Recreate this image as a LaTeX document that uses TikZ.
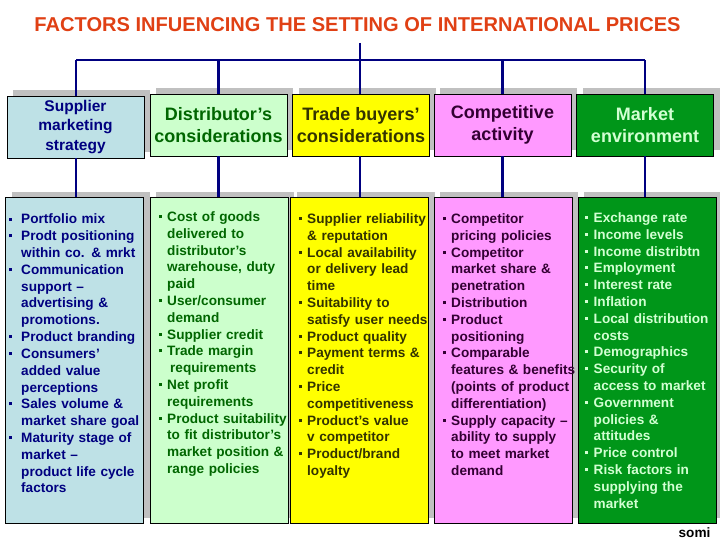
\documentclass[tikz,border=0pt]{standalone}
\usepackage{fontspec}
\setmainfont{Liberation Sans}
\usepackage{graphicx}
\usetikzlibrary{shadows}
\definecolor{titlecol}{RGB}{224,64,20}
\definecolor{navyc}{RGB}{0,0,128}
\definecolor{shadowgray}{RGB}{192,192,192}
\definecolor{fillA}{RGB}{190,225,230}
\definecolor{fillB}{RGB}{204,255,204}
\definecolor{fillC}{RGB}{255,255,0}
\definecolor{fillD}{RGB}{255,153,255}
\definecolor{fillE}{RGB}{0,150,25}
\definecolor{textA}{RGB}{0,0,128}
\definecolor{textB}{RGB}{0,102,0}
\definecolor{textC}{RGB}{51,51,0}
\definecolor{textD}{RGB}{51,0,51}
\definecolor{textE}{RGB}{210,255,210}
\newlength\bindent
\newcommand\itm[1]{\par\hangindent=\bindent\hangafter=1\noindent\rule{0pt}{11pt}\makebox[\bindent][l]{\raisebox{3.4pt}{\rule{3pt}{3pt}}}#1}
\tikzset{
  hdr/.style={draw=black, line width=0.8pt, minimum width=137pt, minimum height=62pt,
    align=center, inner sep=2pt, font=\fontsize{18}{22}\selectfont\bfseries,
    drop shadow={shadow xshift=6pt, shadow yshift=6pt, fill=shadowgray, opacity=1}},
  lbox/.style={draw=black, line width=0.8pt, minimum width=138pt, minimum height=326pt,
    drop shadow={shadow xshift=6pt, shadow yshift=5pt, fill=shadowgray, opacity=1}},
  body/.style={anchor=north west, inner sep=0pt, text width=140pt,
    font=\fontsize{13.6}{16.8}\selectfont\bfseries},
  conn/.style={draw=navyc, line width=2.5pt},
}
\begin{document}
\begin{tikzpicture}[x=1pt, y=-1pt]
\useasboundingbox (0,0) rectangle (720,540);
% title
\node[inner sep=0pt, text=titlecol] (title) at (357.5,24.5)
  {\resizebox{646pt}{14pt}{\bfseries FACTORS INFUENCING THE SETTING OF INTERNATIONAL PRICES}};
% header boxes
\node[hdr, fill=fillA, text=textA, font=\fontsize{15.5}{19.5}\selectfont\bfseries] (h1) at (75.5,127) {Supplier\\marketing\\strategy};
\node[hdr, fill=fillB, text=textB] (h2) at (218.5,125) {Distributor’s\\considerations};
\node[hdr, fill=fillC, text=textC] (h3) at (361,125) {Trade buyers’\\considerations};
\node[hdr, fill=fillD, text=textD] (h4) at (502.5,125) {Competitive\\activity};
\node[hdr, fill=fillE, text=textE] (h5) at (645,125) {Market\\environment};
% lower boxes
\node[lbox, fill=fillA] (l1) at (74.5,360) {};
\node[lbox, fill=fillB] (l2) at (219,360) {};
\node[lbox, fill=fillC] (l3) at (359.5,360) {};
\node[lbox, fill=fillD] (l4) at (503,360) {};
\node[lbox, fill=fillE] (l5) at (647,360) {};
% connectors
\coordinate (ttop) at (360,43);
\coordinate (tbar) at (360,60);
\coordinate (bl) at (76,60);
\coordinate (br) at (645,60);
\draw[conn] (ttop) -- (tbar);
\draw[conn] (bl) -- (br);
\draw[conn] (bl) -- (bl |- h1.north);
\draw[conn] (h2.north |- tbar) -- (h2.north);
\draw[conn] (tbar) -- (tbar |- h3.north);
\draw[conn] (h4.north |- tbar) -- (h4.north);
\draw[conn] (br) -- (br |- h5.north);
\draw[conn] (h1.south -| bl) -- (bl |- l1.north);
\draw[conn] (h2.south) -- (h2.south |- l2.north);
\draw[conn] (tbar |- h3.south) -- (tbar |- l3.north);
\draw[conn] (h4.south) -- (h4.south |- l4.north);
\draw[conn] (br |- h5.south) -- (br |- l5.north);
% body texts
\node[body, text=textA] (t1) at (9,207) {\setlength\bindent{12pt}\raggedright
\itm{Portfolio mix}
\itm{Prodt positioning\newline within co. \& mrkt}
\itm{Communication\newline support –\newline advertising \&\newline promotions.}
\itm{Product branding}
\itm{Consumers’\newline added value\newline perceptions}
\itm{Sales volume \&\newline market share goal}
\itm{Maturity stage of\newline market –\newline product life cycle\newline factors}\par};
\node[body, text=textB] (t2) at (159,204.5) {\setlength\bindent{8pt}\raggedright
\itm{Cost of goods\newline delivered to\newline distributor’s\newline warehouse, duty\newline paid}
\itm{User/consumer\newline demand}
\itm{Supplier credit}
\itm{Trade margin\newline \hspace*{3pt}requirements}
\itm{Net profit\newline requirements}
\itm{Product suitability\newline to fit distributor’s\newline market position \&\newline range policies}\par};
\node[body, text=textC] (t3) at (298.5,206.5) {\setlength\bindent{8.5pt}\raggedright
\itm{Supplier reliability\newline \& reputation}
\itm{Local availability\newline or delivery lead\newline time}
\itm{Suitability to\newline satisfy user needs}
\itm{Product quality}
\itm{Payment terms \&\newline credit}
\itm{Price\newline competitiveness}
\itm{Product’s value\newline v competitor}
\itm{Product/brand\newline loyalty}\par};
\node[body, text=textD] (t4) at (443,206.5) {\setlength\bindent{8pt}\raggedright
\itm{Competitor\newline pricing policies}
\itm{Competitor\newline market share \&\newline penetration}
\itm{Distribution}
\itm{Product\newline positioning}
\itm{Comparable\newline features \& benefits\newline (points of product\newline differentiation)}
\itm{Supply capacity –\newline ability to supply\newline to meet market\newline demand}\par};
\node[body, text=textE] (t5) at (585,205.5) {\setlength\bindent{8.5pt}\raggedright
\itm{Exchange rate}
\itm{Income levels}
\itm{Income distribtn}
\itm{Employment}
\itm{Interest rate}
\itm{Inflation}
\itm{Local distribution\newline costs}
\itm{Demographics}
\itm{Security of\newline access to market}
\itm{Government\newline policies \&\newline attitudes}
\itm{Price control}
\itm{Risk factors in\newline supplying the\newline market}\par};
\node[inner sep=0pt, font=\fontsize{13.6}{16}\selectfont\bfseries] (somi) at (694.5,533) {somi};
\end{tikzpicture}
\end{document}
